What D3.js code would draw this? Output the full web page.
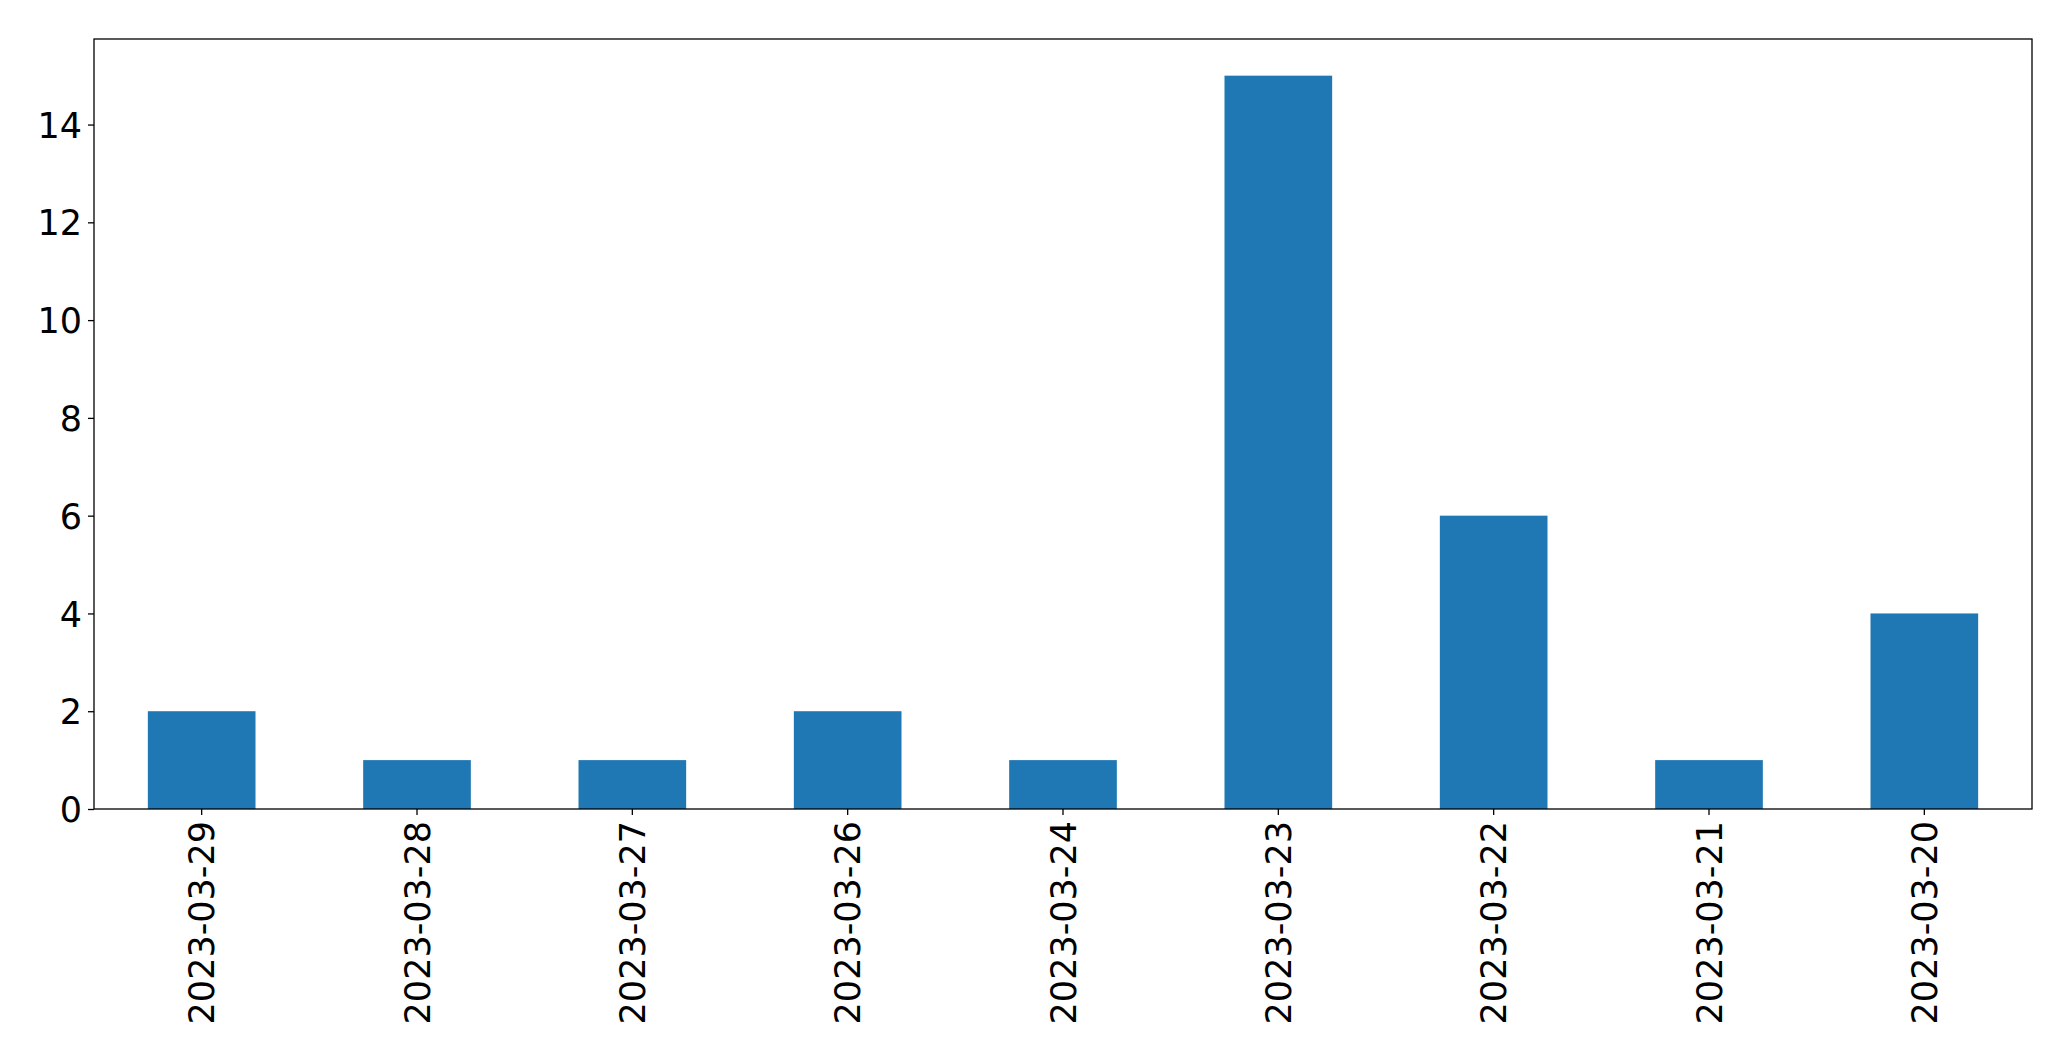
<!DOCTYPE html>
<html>
<head>
<meta charset="utf-8">
<script src="https://cdn.jsdelivr.net/npm/d3@7"></script>
<style>
  body { margin: 0; background: #fff; }
  svg { display: block; }
  text { font-family: "DejaVu Sans", sans-serif; fill: #000; }
</style>
</head>
<body>
<svg id="chart" width="2071" height="1061"></svg>
<script>
const categories = ["2023-03-29","2023-03-28","2023-03-27","2023-03-26","2023-03-24","2023-03-23","2023-03-22","2023-03-21","2023-03-20"];
const values = [2,1,1,2,1,15,6,1,4];
const yTicks = [0,2,4,6,8,10,12,14];

const W = 2071, H = 1061;
const margin = {left: 94, top: 39, right: 2071 - 2032, bottom: 1061 - 809};
const svg = d3.select("#chart");

const x = d3.scaleBand().domain(categories).range([margin.left, W - margin.right]).paddingInner(0.5).paddingOuter(0.25);
const y = d3.scaleLinear().domain([0, 15 * 1.05]).range([H - margin.bottom, margin.top]);

svg.append("g").selectAll("rect").data(categories).join("rect")
  .attr("x", d => x(d))
  .attr("width", x.bandwidth())
  .attr("y", (d, i) => y(values[i]))
  .attr("height", (d, i) => y(0) - y(values[i]))
  .attr("fill", "#1f77b4");

const fs = 35;
// y axis
const yAxis = svg.append("g").attr("transform", `translate(${margin.left},0)`)
  .call(d3.axisLeft(y).tickValues(yTicks).tickSize(6).tickPadding(6).tickFormat(d3.format("d")));
yAxis.select(".domain").remove();
yAxis.selectAll("line").attr("stroke", "#000").attr("stroke-width", 1.3);
yAxis.selectAll("text").attr("font-size", fs).attr("font-family", "DejaVu Sans").attr("dy", "0.36em");

// x axis
const xAxis = svg.append("g").attr("transform", `translate(0,${H - margin.bottom})`)
  .call(d3.axisBottom(x).tickSize(6).tickPadding(0));
xAxis.select(".domain").remove();
xAxis.selectAll("line").attr("stroke", "#000").attr("stroke-width", 1.3);
xAxis.selectAll("text")
  .attr("font-size", fs).attr("font-family", "DejaVu Sans")
  .attr("text-anchor", "end")
  .attr("transform", "translate(0,12) rotate(-90)")
  .attr("x", 0).attr("y", 0).attr("dy", "0.36em");

// frame
svg.append("rect")
  .attr("x", margin.left).attr("y", margin.top)
  .attr("width", W - margin.right - margin.left)
  .attr("height", H - margin.bottom - margin.top)
  .attr("fill", "none").attr("stroke", "#000").attr("stroke-width", 1.3);
</script>
</body>
</html>
